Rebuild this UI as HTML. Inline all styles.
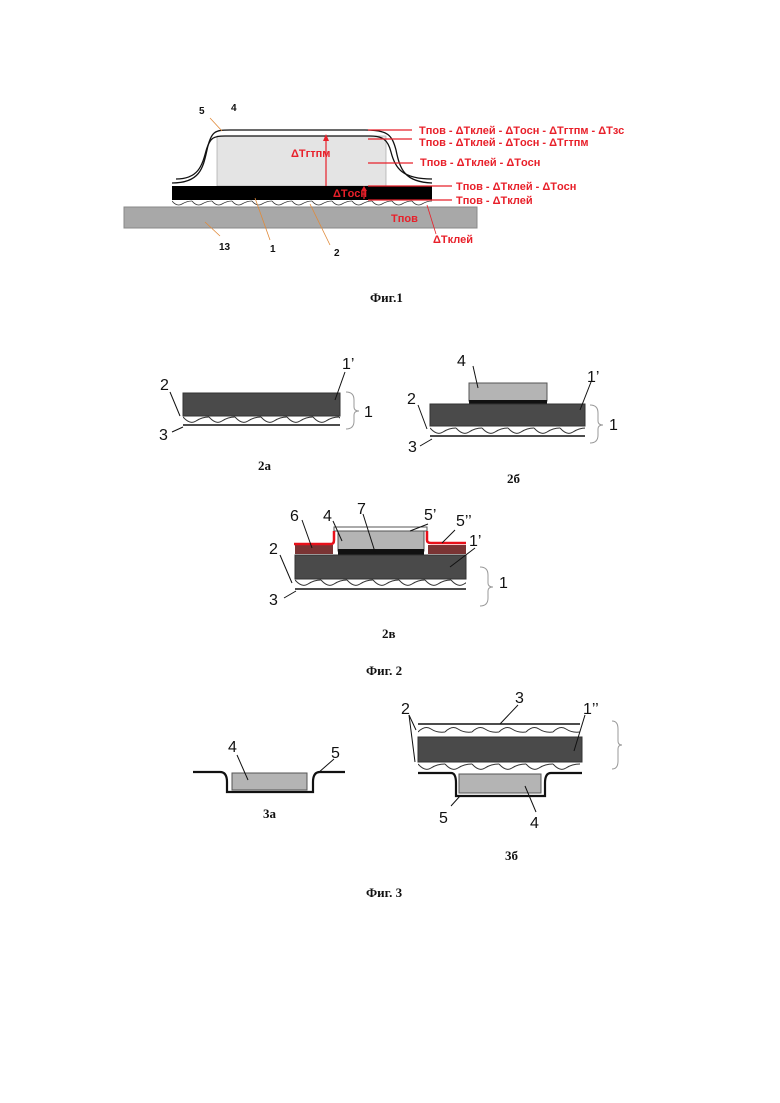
<!DOCTYPE html>
<html><head><meta charset="utf-8"><style>
html,body{margin:0;padding:0;background:#fff;}
svg{display:block}
.l{font-family:"Liberation Sans",sans-serif;font-size:16px;fill:#111}
.r{font-family:"Liberation Sans",sans-serif;font-size:11px;font-weight:bold;fill:#e8202a}
.b{font-family:"Liberation Sans",sans-serif;font-size:10px;font-weight:bold;fill:#111}
.s{font-family:"Liberation Serif",serif;font-size:13px;font-weight:bold;fill:#111}
</style></head><body>
<svg width="780" height="1103" viewBox="0 0 780 1103" xmlns="http://www.w3.org/2000/svg">
<defs>
<pattern id="w1" x="172" y="200" width="20" height="7" patternUnits="userSpaceOnUse"><path d="M0,1 Q5,7 10,4 Q15,1 20,1" fill="none" stroke="#333" stroke-width="0.8"/></pattern>
<pattern id="w2" x="183" y="416" width="26" height="9" patternUnits="userSpaceOnUse"><path d="M0,1 Q7,9 13,5 Q19,1 26,1" fill="none" stroke="#333" stroke-width="1"/></pattern>
<pattern id="w3" x="430" y="427" width="26" height="9" patternUnits="userSpaceOnUse"><path d="M0,1 Q7,9 13,5 Q19,1 26,1" fill="none" stroke="#333" stroke-width="1"/></pattern>
<pattern id="w4" x="295" y="579" width="26" height="9" patternUnits="userSpaceOnUse"><path d="M0,1 Q7,9 13,5 Q19,1 26,1" fill="none" stroke="#333" stroke-width="1"/></pattern>
<pattern id="w5" x="418" y="725" width="27" height="9" patternUnits="userSpaceOnUse"><path d="M0,7 Q7,0 13,4 Q19,8 27,7" fill="none" stroke="#333" stroke-width="1"/></pattern>
<pattern id="w6" x="418" y="763" width="27" height="9" patternUnits="userSpaceOnUse"><path d="M0,1 Q7,9 13,5 Q19,1 27,1" fill="none" stroke="#333" stroke-width="1"/></pattern>
</defs>

<!-- FIG 1 -->
<rect x="124" y="207" width="353" height="21" fill="#a8a8a8" stroke="#888"/>
<rect x="172" y="200" width="260" height="7" fill="url(#w1)"/>
<rect x="217" y="136" width="169" height="50" fill="#e4e4e4" stroke="#999" stroke-width="0.6"/>
<path d="M172,183 C200,183 203,168 207,150 C211,131 215,130 230,130 L365,130 C388,130 392,135 396,150 C400,170 405,182 432,183" fill="none" stroke="#111" stroke-width="1.3"/>
<path d="M176,179 C198,179 202,166 206,151 C210,137 214,136 225,136 L370,136 C383,136 388,140 391,152 C395,168 402,179 432,179" fill="none" stroke="#111" stroke-width="1.3"/>
<rect x="172" y="186" width="260" height="14" fill="#000"/>
<g stroke="#e8202a" stroke-width="1.2">
<line x1="368" y1="130" x2="412" y2="130"/>
<line x1="368" y1="139" x2="412" y2="139"/>
<line x1="368" y1="163" x2="413" y2="163"/>
<line x1="368" y1="186" x2="452" y2="186"/>
<line x1="368" y1="200" x2="452" y2="200"/>
<line x1="326" y1="186" x2="326" y2="140"/>
<line x1="364" y1="199" x2="364" y2="190"/>
<line x1="436" y1="234" x2="427" y2="205" stroke-width="0.8"/>
</g>
<path d="M323,141 L326,134 L329,141Z M361,191 L364,186 L367,191Z" fill="#e8202a"/>
<text class="r" x="419" y="134">Tпов - ΔTклей - ΔTосн - ΔTгтпм - ΔTзс</text>
<text class="r" x="419" y="146">Tпов - ΔTклей - ΔTосн - ΔTгтпм</text>
<text class="r" x="420" y="166">Tпов - ΔTклей - ΔTосн</text>
<text class="r" x="456" y="190">Tпов - ΔTклей - ΔTосн</text>
<text class="r" x="456" y="204">Tпов - ΔTклей</text>
<text class="r" x="391" y="222">Tпов</text>
<text class="r" x="433" y="243">ΔTклей</text>
<text class="r" x="291" y="157">ΔTгтпм</text>
<text class="r" x="333" y="197">ΔTосн</text>
<g stroke="#e08a3a" stroke-width="0.8">
<line x1="210" y1="118" x2="222" y2="131"/>
<line x1="220" y1="236" x2="205" y2="222"/>
<line x1="270" y1="240" x2="255" y2="198"/>
<line x1="330" y1="245" x2="310" y2="204"/>
</g>
<text class="b" x="199" y="114">5</text>
<text class="b" x="231" y="111">4</text>
<text class="b" x="219" y="250">13</text>
<text class="b" x="270" y="252">1</text>
<text class="b" x="334" y="256">2</text>
<text class="s" x="370" y="302">Фиг.1</text>

<!-- FIG 2a -->
<rect x="183" y="393" width="157" height="23" fill="#4a4a4a" stroke="#333"/>
<rect x="183" y="416" width="157" height="9" fill="url(#w2)"/>
<line x1="183" y1="425" x2="340" y2="425" stroke="#111" stroke-width="1.5"/>
<path d="M346,392 q8,0 8,8 v7 q0,4 5,4 q-5,0 -5,4 v6 q0,8 -8,8" fill="none" stroke="#999"/>
<line x1="170" y1="392" x2="180" y2="416" stroke="#111"/>
<line x1="172" y1="432" x2="183" y2="427" stroke="#111"/>
<line x1="345" y1="372" x2="335" y2="400" stroke="#111"/>
<text class="l" x="160" y="390">2</text>
<text class="l" x="159" y="440">3</text>
<text class="l" x="342" y="369">1’</text>
<text class="l" x="364" y="417">1</text>
<text class="s" x="258" y="470">2а</text>

<!-- FIG 2b -->
<rect x="469" y="383" width="78" height="18" fill="#b4b4b4" stroke="#555"/>
<rect x="469" y="400" width="78" height="4" fill="#111"/>
<rect x="430" y="404" width="155" height="22" fill="#4a4a4a" stroke="#333"/>
<rect x="430" y="427" width="155" height="9" fill="url(#w3)"/>
<line x1="430" y1="436" x2="585" y2="436" stroke="#111" stroke-width="1.5"/>
<path d="M590,405 q8,0 8,8 v8 q0,4 5,4 q-5,0 -5,4 v6 q0,8 -8,8" fill="none" stroke="#999"/>
<line x1="418" y1="405" x2="427" y2="429" stroke="#111"/>
<line x1="420" y1="446" x2="432" y2="439" stroke="#111"/>
<line x1="591" y1="382" x2="580" y2="410" stroke="#111"/>
<line x1="473" y1="366" x2="478" y2="388" stroke="#111"/>
<text class="l" x="457" y="366">4</text>
<text class="l" x="587" y="382">1’</text>
<text class="l" x="407" y="404">2</text>
<text class="l" x="408" y="452">3</text>
<text class="l" x="609" y="430">1</text>
<text class="s" x="507" y="483">2б</text>

<!-- FIG 2v -->
<rect x="295" y="545" width="38" height="9" fill="#7a3434"/>
<rect x="428" y="545" width="38" height="9" fill="#7a3434"/>
<rect x="338" y="531" width="86" height="20" fill="#b4b4b4" stroke="#555"/>
<rect x="338" y="549" width="86" height="6" fill="#111"/>
<rect x="334" y="527" width="93" height="4" fill="#fff" stroke="#555"/>
<path d="M294,544 L331,544 Q334,544 334,540 L334,531 M427,531 L427,540 Q427,543 431,543 L466,543" fill="none" stroke="#e8101a" stroke-width="2.5"/>
<rect x="295" y="555" width="171" height="24" fill="#4a4a4a" stroke="#333"/>
<rect x="295" y="579" width="171" height="9" fill="url(#w4)"/>
<line x1="295" y1="589" x2="466" y2="589" stroke="#111" stroke-width="1.5"/>
<path d="M480,567 q8,0 8,8 v8 q0,4 5,4 q-5,0 -5,4 v7 q0,8 -8,8" fill="none" stroke="#999"/>
<line x1="280" y1="555" x2="292" y2="583" stroke="#111"/>
<line x1="284" y1="598" x2="296" y2="591" stroke="#111"/>
<line x1="302" y1="520" x2="312" y2="548" stroke="#111"/>
<line x1="333" y1="521" x2="342" y2="541" stroke="#111"/>
<line x1="363" y1="514" x2="375" y2="552" stroke="#111"/>
<line x1="428" y1="524" x2="410" y2="531" stroke="#111"/>
<line x1="455" y1="530" x2="442" y2="543" stroke="#111"/>
<line x1="475" y1="548" x2="450" y2="567" stroke="#111"/>
<text class="l" x="290" y="521">6</text>
<text class="l" x="323" y="521">4</text>
<text class="l" x="357" y="514">7</text>
<text class="l" x="424" y="520">5’</text>
<text class="l" x="456" y="526">5’’</text>
<text class="l" x="469" y="546">1’</text>
<text class="l" x="269" y="554">2</text>
<text class="l" x="269" y="605">3</text>
<text class="l" x="499" y="588">1</text>
<text class="s" x="382" y="638">2в</text>
<text class="s" x="366" y="675">Фиг. 2</text>

<!-- FIG 3a -->
<rect x="232" y="773" width="75" height="17" fill="#b4b4b4" stroke="#555"/>
<path d="M193,772 L220,772 Q227,772 227,782 L227,792 L313,792 L313,782 Q313,772 320,772 L345,772" fill="none" stroke="#111" stroke-width="2.2"/>
<line x1="237" y1="755" x2="248" y2="780" stroke="#111"/>
<line x1="334" y1="759" x2="318" y2="773" stroke="#111"/>
<text class="l" x="228" y="752">4</text>
<text class="l" x="331" y="758">5</text>
<text class="s" x="263" y="818">3а</text>

<!-- FIG 3b -->
<line x1="418" y1="724" x2="580" y2="724" stroke="#111" stroke-width="1.5"/>
<rect x="418" y="725" width="162" height="9" fill="url(#w5)"/>
<rect x="418" y="737" width="164" height="25" fill="#4a4a4a" stroke="#333"/>
<rect x="418" y="763" width="162" height="9" fill="url(#w6)"/>
<rect x="459" y="774" width="82" height="19" fill="#b4b4b4" stroke="#555"/>
<path d="M418,773 L451,773 Q456,773 456,783 L456,796 L545,796 L545,783 Q545,773 551,773 L582,773" fill="none" stroke="#111" stroke-width="2.2"/>
<path d="M612,721 q6,0 6,8 v12 q0,4 4,4 q-4,0 -4,4 v12 q0,8 -6,8" fill="none" stroke="#999"/>
<line x1="409" y1="715" x2="416" y2="730" stroke="#111"/>
<line x1="409" y1="715" x2="415" y2="762" stroke="#111"/>
<line x1="518" y1="705" x2="500" y2="724" stroke="#111"/>
<line x1="585" y1="715" x2="574" y2="751" stroke="#111"/>
<line x1="451" y1="806" x2="460" y2="796" stroke="#111"/>
<line x1="536" y1="812" x2="525" y2="786" stroke="#111"/>
<text class="l" x="401" y="714">2</text>
<text class="l" x="515" y="703">3</text>
<text class="l" x="583" y="714">1’’</text>
<text class="l" x="439" y="823">5</text>
<text class="l" x="530" y="828">4</text>
<text class="s" x="505" y="860">3б</text>
<text class="s" x="366" y="897">Фиг. 3</text>
</svg>
</body></html>
